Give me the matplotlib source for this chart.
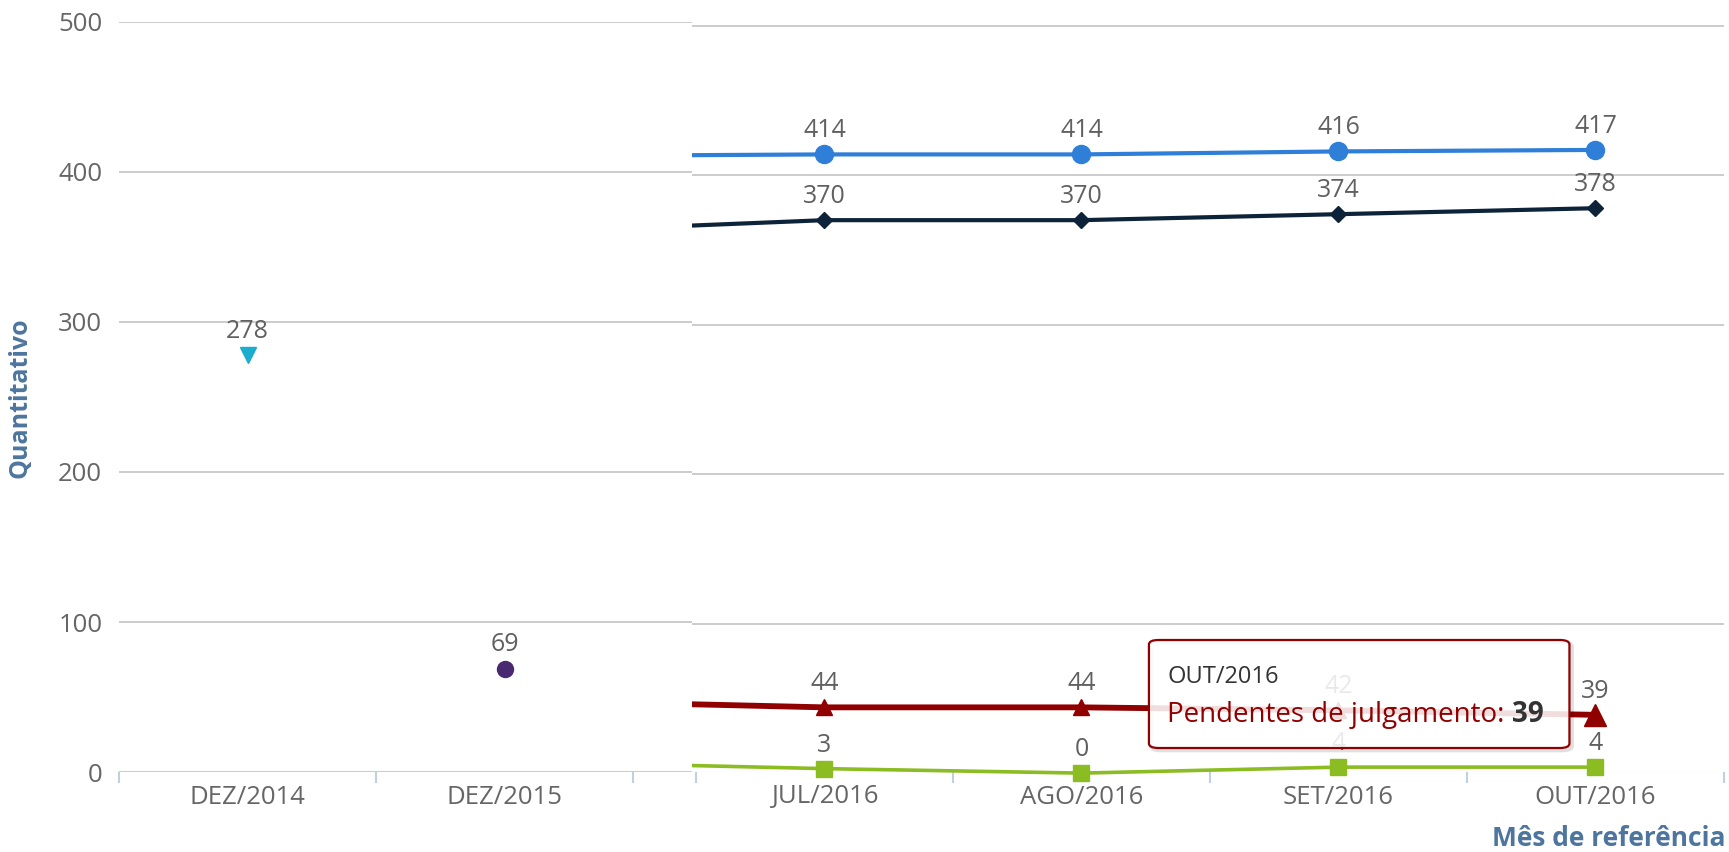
import matplotlib.pyplot as plt
import matplotlib.transforms as mtransforms
from matplotlib.patches import Rectangle, FancyBboxPatch

plt.rcParams['font.family'] = ['Open Sans', 'DejaVu Sans']

# categories and values
meses = ['DEZ/2014', 'DEZ/2015', 'JUL/2016', 'AGO/2016', 'SET/2016', 'OUT/2016']
val_dez2014 = [278]
val_dez2015 = [69]
# 2016 series: first value is JUN/2016, only the tail of its segment is visible
serie_azul = [413, 414, 414, 416, 417]
serie_escura = [363, 370, 370, 374, 378]
serie_verde = [7, 3, 0, 4, 4]
pendentes = [48, 44, 44, 42, 39]
y_ticks = [0, 100, 200, 300, 400, 500]

# layout: the picture is two screenshots stitched side by side
gap = 0.245
x_left = [0, 1]
x_2016 = [1 + gap + i for i in range(5)]
stitch = 1.729
x_min, x_max = -0.5, 5 + gap + 0.5

fig = plt.figure(figsize=(17.29, 8.52), dpi=100)
ax = fig.add_axes([119 / 1729, 1 - 772 / 852, 1605 / 1729, 750 / 852])
ax.set_xlim(x_min, x_max)
ax.set_ylim(0, 500)
for s in ax.spines.values():
    s.set_visible(False)

# right screenshot has a slightly different vertical scale
tr_right = mtransforms.Affine2D().scale(1, 0.9963).translate(0, -0.74) + ax.transData

ax.hlines(y_ticks[1:], x_min, stitch, color='#c8c8c8', lw=1.3, zorder=1)
ax.hlines(y_ticks[1:], stitch, x_max, color='#c8c8c8', lw=1.3, zorder=1,
          transform=tr_right)
ax.hlines([0], x_min, stitch, color='#c0d0e0', lw=1.5, zorder=1)
ax.hlines([0], stitch, x_max, color='#c0d0e0', lw=1.5, zorder=1,
          transform=tr_right)

ax.set_yticks(y_ticks)
ax.set_yticklabels([str(v) for v in y_ticks])
ax.tick_params(axis='y', length=0, pad=12, labelsize=18.5, labelcolor='#666666')
ax.set_xticks(x_left + x_2016[1:])
ax.set_xticklabels(meses)
ax.tick_params(axis='x', which='major', length=0, pad=9, labelsize=18.5,
               labelcolor='#666666')
ax.set_xticks([-0.5, 0.5, 1.5] + [x + 0.5 for x in x_2016], minor=True)
ax.tick_params(axis='x', which='minor', length=8, width=1.5, color='#c0d0e0')

clip = Rectangle((stitch, -100), 20, 1000, transform=ax.transData)

def serie(vals, color, marker, ms, lw, every=slice(1, None)):
    line, = ax.plot(x_2016, vals, color=color, lw=lw, marker=marker, ms=ms,
                    markevery=every, zorder=4, transform=tr_right)
    line.set_clip_path(clip)
    return line

serie(serie_azul, '#2f7ed8', 'o', 13, 3.0)
serie(serie_escura, '#0d233a', 'D', 8.5, 3.0)
serie(serie_verde, '#8bbc21', 's', 12, 2.6)
serie(pendentes, '#910000', '^', 11.5, 4.2, every=slice(1, 4))
ax.plot(x_2016[-1:], pendentes[-1:], color='#910000', marker='^', ms=16,
        ls='none', zorder=5, transform=tr_right)
ax.plot(x_left[:1], val_dez2014, color='#1aadce', marker='v', ms=11.5,
        ls='none', zorder=4)
ax.plot(x_left[1:], val_dez2015, color='#492970', marker='o', ms=11.5,
        ls='none', zorder=4)

def rotulos(xs, vals, trans, dy=8):
    for x, v in zip(xs, vals):
        ax.annotate(str(v), (x, v), xycoords=trans, xytext=(0, dy),
                    textcoords='offset points', ha='center', va='bottom',
                    fontsize=18, color='#606060', zorder=6)

rotulos(x_left[:1], val_dez2014, ax.transData)
rotulos(x_left[1:], val_dez2015, ax.transData)
rotulos(x_2016[1:], serie_azul[1:], tr_right)
rotulos(x_2016[1:], serie_escura[1:], tr_right)
rotulos(x_2016[1:], pendentes[1:], tr_right)
rotulos(x_2016[1:], serie_verde[1:], tr_right)

# tooltip
bx0, by0, bw, bh = 0.6417, 0.032, 0.262, 0.144
sh = FancyBboxPatch((bx0 + 0.0015, by0 - 0.003), bw, bh,
                    boxstyle='round,pad=0,rounding_size=0.006',
                    transform=ax.transAxes, fc='none', ec=(0, 0, 0, 0.12),
                    lw=3, zorder=9, clip_on=False)
ax.add_patch(sh)
tip = FancyBboxPatch((bx0, by0), bw, bh,
                     boxstyle='round,pad=0,rounding_size=0.006',
                     transform=ax.transAxes, fc=(1, 1, 1, 0.87), ec='#910000',
                     lw=1.6, zorder=10, clip_on=False)
ax.add_patch(tip)
ax.text(0.653, 0.127, 'OUT/2016', transform=ax.transAxes, fontsize=17,
        color='#333333', va='center', ha='left', zorder=11)
t1 = ax.text(0.653, 0.0765, 'Pendentes de julgamento: ', transform=ax.transAxes,
             fontsize=20, color='#910000', va='center', ha='left', zorder=11)
ax.annotate(str(pendentes[-1]), xy=(1, 0), xycoords=t1, fontsize=20,
            fontweight='bold', color='#333333', va='bottom', ha='left',
            zorder=11)

fig.text(20 / 1729, 1 - 398 / 852, 'Quantitativo', rotation=90, ha='center',
         va='center', fontsize=18, fontweight='bold', color='#4d759e')
fig.text(1726 / 1729, 1 - 838 / 852, 'Mês de referência', ha='right',
         va='center', fontsize=19, fontweight='bold', color='#4d759e')

fig.savefig('out.png', dpi=100)
